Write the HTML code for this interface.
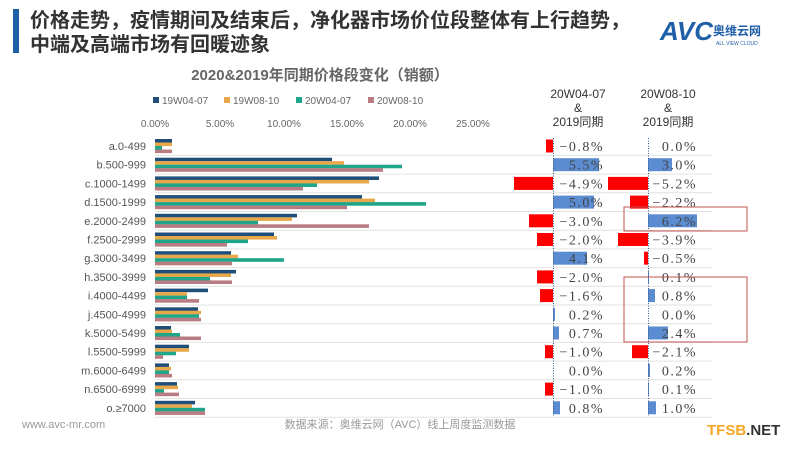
<!DOCTYPE html>
<html><head><meta charset="utf-8"><style>
body{margin:0;width:800px;height:450px;background:#fff;overflow:hidden;font-family:"Liberation Sans","Noto Sans CJK SC",sans-serif}
</style></head><body>
<svg width="800" height="450" xmlns="http://www.w3.org/2000/svg" font-family="Liberation Sans, Noto Sans CJK SC, sans-serif">
<rect x="13" y="9" width="6" height="44" fill="#1f5fa8"/>
<text x="30" y="27" font-size="20" font-weight="bold" fill="#333">价格走势，疫情期间及结束后，净化器市场价位段整体有上行趋势，</text>
<text x="30" y="51" font-size="20" font-weight="bold" fill="#333">中端及高端市场有回暖迹象</text>
<text x="660" y="40" font-size="26" font-weight="bold" fill="#1f5fa8" font-style="italic">AVC</text>
<text x="713" y="35" font-size="12" font-weight="bold" fill="#1f5fa8">奥维云网</text>
<text x="716" y="45" font-size="5" fill="#1f5fa8">ALL VIEW CLOUD</text>
<text x="320" y="80" font-size="15" font-weight="bold" fill="#666" text-anchor="middle">2020&amp;2019年同期价格段变化（销额）</text>
<g font-size="10" fill="#666">
<rect x="153" y="97" width="6" height="6" fill="#1f4e79"/><text x="162" y="104">19W04-07</text>
<rect x="224" y="97" width="6" height="6" fill="#e8a84a"/><text x="233" y="104">19W08-10</text>
<rect x="296" y="97" width="6" height="6" fill="#1fa58a"/><text x="305" y="104">20W04-07</text>
<rect x="368" y="97" width="6" height="6" fill="#b87c82"/><text x="377" y="104">20W08-10</text>
</g>
<g font-size="10" fill="#666" text-anchor="middle">
<text x="155" y="127">0.00%</text><text x="220" y="127">5.00%</text><text x="284" y="127">10.00%</text><text x="347" y="127">15.00%</text><text x="410" y="127">20.00%</text><text x="473" y="127">25.00%</text>
</g>
<g font-size="12" fill="#333" text-anchor="middle">
<text x="578" y="98">20W04-07</text><text x="578" y="112">&amp;</text><text x="578" y="126">2019同期</text>
<text x="668" y="98">20W08-10</text><text x="668" y="112">&amp;</text><text x="668" y="126">2019同期</text>
</g>
<g stroke="#e2e2e2" stroke-width="1">
<line x1="155" x2="712" y1="155.4" y2="155.4"/><line x1="155" x2="712" y1="174.1" y2="174.1"/><line x1="155" x2="712" y1="192.8" y2="192.8"/><line x1="155" x2="712" y1="211.5" y2="211.5"/><line x1="155" x2="712" y1="230.2" y2="230.2"/><line x1="155" x2="712" y1="248.9" y2="248.9"/><line x1="155" x2="712" y1="267.6" y2="267.6"/><line x1="155" x2="712" y1="286.3" y2="286.3"/><line x1="155" x2="712" y1="305" y2="305"/><line x1="155" x2="712" y1="323.7" y2="323.7"/><line x1="155" x2="712" y1="342.4" y2="342.4"/><line x1="155" x2="712" y1="361.1" y2="361.1"/><line x1="155" x2="712" y1="379.8" y2="379.8"/><line x1="155" x2="712" y1="398.5" y2="398.5"/><line x1="155" x2="712" y1="417.2" y2="417.2"/>
</g>
<defs>
<g id="x"></g>
</defs>
<g font-size="11" fill="#555" text-anchor="end">
<text x="146" y="150">a.0-499</text><text x="146" y="168.7">b.500-999</text><text x="146" y="187.4">c.1000-1499</text><text x="146" y="206.1">d.1500-1999</text><text x="146" y="224.8">e.2000-2499</text><text x="146" y="243.5">f.2500-2999</text><text x="146" y="262.2">g.3000-3499</text><text x="146" y="280.9">h.3500-3999</text><text x="146" y="299.6">i.4000-4499</text><text x="146" y="318.3">j.4500-4999</text><text x="146" y="337">k.5000-5499</text><text x="146" y="355.7">l.5500-5999</text><text x="146" y="374.4">m.6000-6499</text><text x="146" y="393.1">n.6500-6999</text><text x="146" y="411.8">o.≥7000</text>
</g>
<g>
<g transform="translate(155,146)"><rect y="-7" width="17" height="3.6" fill="#1f4e79"/><rect y="-3.5" width="17" height="3.6" fill="#e8a84a"/><rect y="0" width="7" height="3.6" fill="#1fa58a"/><rect y="3.5" width="17" height="3.6" fill="#b87c82"/></g>
<g transform="translate(155,164.7)"><rect y="-7" width="177" height="3.6" fill="#1f4e79"/><rect y="-3.5" width="189" height="3.6" fill="#e8a84a"/><rect y="0" width="247" height="3.6" fill="#1fa58a"/><rect y="3.5" width="228" height="3.6" fill="#b87c82"/></g>
<g transform="translate(155,183.4)"><rect y="-7" width="224" height="3.6" fill="#1f4e79"/><rect y="-3.5" width="214" height="3.6" fill="#e8a84a"/><rect y="0" width="162" height="3.6" fill="#1fa58a"/><rect y="3.5" width="148" height="3.6" fill="#b87c82"/></g>
<g transform="translate(155,202.1)"><rect y="-7" width="207" height="3.6" fill="#1f4e79"/><rect y="-3.5" width="220" height="3.6" fill="#e8a84a"/><rect y="0" width="271" height="3.6" fill="#1fa58a"/><rect y="3.5" width="192" height="3.6" fill="#b87c82"/></g>
<g transform="translate(155,220.8)"><rect y="-7" width="142" height="3.6" fill="#1f4e79"/><rect y="-3.5" width="137" height="3.6" fill="#e8a84a"/><rect y="0" width="103" height="3.6" fill="#1fa58a"/><rect y="3.5" width="214" height="3.6" fill="#b87c82"/></g>
<g transform="translate(155,239.5)"><rect y="-7" width="119" height="3.6" fill="#1f4e79"/><rect y="-3.5" width="122" height="3.6" fill="#e8a84a"/><rect y="0" width="93" height="3.6" fill="#1fa58a"/><rect y="3.5" width="72" height="3.6" fill="#b87c82"/></g>
<g transform="translate(155,258.2)"><rect y="-7" width="76" height="3.6" fill="#1f4e79"/><rect y="-3.5" width="83" height="3.6" fill="#e8a84a"/><rect y="0" width="129" height="3.6" fill="#1fa58a"/><rect y="3.5" width="77" height="3.6" fill="#b87c82"/></g>
<g transform="translate(155,276.9)"><rect y="-7" width="81" height="3.6" fill="#1f4e79"/><rect y="-3.5" width="76" height="3.6" fill="#e8a84a"/><rect y="0" width="55" height="3.6" fill="#1fa58a"/><rect y="3.5" width="77" height="3.6" fill="#b87c82"/></g>
<g transform="translate(155,295.6)"><rect y="-7" width="53" height="3.6" fill="#1f4e79"/><rect y="-3.5" width="32" height="3.6" fill="#e8a84a"/><rect y="0" width="32" height="3.6" fill="#1fa58a"/><rect y="3.5" width="44" height="3.6" fill="#b87c82"/></g>
<g transform="translate(155,314.3)"><rect y="-7" width="43" height="3.6" fill="#1f4e79"/><rect y="-3.5" width="46" height="3.6" fill="#e8a84a"/><rect y="0" width="44" height="3.6" fill="#1fa58a"/><rect y="3.5" width="46" height="3.6" fill="#b87c82"/></g>
<g transform="translate(155,333)"><rect y="-7" width="16" height="3.6" fill="#1f4e79"/><rect y="-3.5" width="17" height="3.6" fill="#e8a84a"/><rect y="0" width="25" height="3.6" fill="#1fa58a"/><rect y="3.5" width="46" height="3.6" fill="#b87c82"/></g>
<g transform="translate(155,351.7)"><rect y="-7" width="34" height="3.6" fill="#1f4e79"/><rect y="-3.5" width="34" height="3.6" fill="#e8a84a"/><rect y="0" width="21" height="3.6" fill="#1fa58a"/><rect y="3.5" width="8" height="3.6" fill="#b87c82"/></g>
<g transform="translate(155,370.4)"><rect y="-7" width="14" height="3.6" fill="#1f4e79"/><rect y="-3.5" width="16" height="3.6" fill="#e8a84a"/><rect y="0" width="14" height="3.6" fill="#1fa58a"/><rect y="3.5" width="17" height="3.6" fill="#b87c82"/></g>
<g transform="translate(155,389.1)"><rect y="-7" width="22" height="3.6" fill="#1f4e79"/><rect y="-3.5" width="23" height="3.6" fill="#e8a84a"/><rect y="0" width="9" height="3.6" fill="#1fa58a"/><rect y="3.5" width="24" height="3.6" fill="#b87c82"/></g>
<g transform="translate(155,407.8)"><rect y="-7" width="40" height="3.6" fill="#1f4e79"/><rect y="-3.5" width="37" height="3.6" fill="#e8a84a"/><rect y="0" width="50" height="3.6" fill="#1fa58a"/><rect y="3.5" width="50" height="3.6" fill="#b87c82"/></g>
</g>
<!-- diff col1 axis 553 -->
<g>
<rect x="546" y="139.5" width="7" height="13" fill="#f00"/>
<rect x="553" y="158.2" width="46" height="13" fill="#5b8bd0"/>
<rect x="514" y="176.9" width="39" height="13" fill="#f00"/>
<rect x="553" y="195.6" width="41" height="13" fill="#5b8bd0"/>
<rect x="529" y="214.3" width="24" height="13" fill="#f00"/>
<rect x="537" y="233" width="16" height="13" fill="#f00"/>
<rect x="553" y="251.7" width="34" height="13" fill="#5b8bd0"/>
<rect x="537" y="270.4" width="16" height="13" fill="#f00"/>
<rect x="540" y="289.1" width="13" height="13" fill="#f00"/>
<rect x="553" y="307.8" width="2" height="13" fill="#5b8bd0"/>
<rect x="553" y="326.5" width="6" height="13" fill="#5b8bd0"/>
<rect x="545" y="345.2" width="8" height="13" fill="#f00"/>
<rect x="545" y="382.6" width="8" height="13" fill="#f00"/>
<rect x="553" y="401.3" width="7" height="13" fill="#5b8bd0"/>
<line x1="553.5" x2="553.5" y1="138" y2="416" stroke="#3a5a8a" stroke-dasharray="1,1.5"/>
</g>
<g>
<rect x="648" y="158.2" width="24" height="13" fill="#5b8bd0"/>
<rect x="608" y="176.9" width="40" height="13" fill="#f00"/>
<rect x="630" y="195.6" width="18" height="13" fill="#f00"/>
<rect x="648" y="214.3" width="49" height="13" fill="#5b8bd0"/>
<rect x="618" y="233" width="30" height="13" fill="#f00"/>
<rect x="644" y="251.7" width="4" height="13" fill="#f00"/>
<rect x="648" y="270.4" width="1" height="13" fill="#5b8bd0"/>
<rect x="648" y="289.1" width="7" height="13" fill="#5b8bd0"/>
<rect x="648" y="326.5" width="20" height="13" fill="#5b8bd0"/>
<rect x="632" y="345.2" width="16" height="13" fill="#f00"/>
<rect x="648" y="364" width="2" height="13" fill="#5b8bd0"/>
<rect x="648" y="382.6" width="1" height="13" fill="#5b8bd0"/>
<rect x="648" y="401.3" width="8" height="13" fill="#5b8bd0"/>
<line x1="648.5" x2="648.5" y1="138" y2="416" stroke="#3a5a8a" stroke-dasharray="1,1.5"/>
</g>
<g font-family="Liberation Serif, Noto Serif CJK SC, serif" font-size="14" fill="#444" text-anchor="end" letter-spacing="1.5">
<text x="604" y="151">−0.8%</text><text x="604" y="169.7">5.5%</text><text x="604" y="188.4">−4.9%</text><text x="604" y="207.1">5.0%</text><text x="604" y="225.8">−3.0%</text><text x="604" y="244.5">−2.0%</text><text x="604" y="263.2">4.1%</text><text x="604" y="281.9">−2.0%</text><text x="604" y="300.6">−1.6%</text><text x="604" y="319.3">0.2%</text><text x="604" y="338">0.7%</text><text x="604" y="356.7">−1.0%</text><text x="604" y="375.4">0.0%</text><text x="604" y="394.1">−1.0%</text><text x="604" y="412.8">0.8%</text>
<text x="697" y="151">0.0%</text><text x="697" y="169.7">3.0%</text><text x="697" y="188.4">−5.2%</text><text x="697" y="207.1">−2.2%</text><text x="697" y="225.8">6.2%</text><text x="697" y="244.5">−3.9%</text><text x="697" y="263.2">−0.5%</text><text x="697" y="281.9">0.1%</text><text x="697" y="300.6">0.8%</text><text x="697" y="319.3">0.0%</text><text x="697" y="338">2.4%</text><text x="697" y="356.7">−2.1%</text><text x="697" y="375.4">0.2%</text><text x="697" y="394.1">0.1%</text><text x="697" y="412.8">1.0%</text>
</g>
<rect x="624" y="207" width="123" height="24" fill="none" stroke="#c0504d" stroke-width="1"/>
<rect x="624" y="277" width="123" height="65" fill="none" stroke="#c0504d" stroke-width="1"/>
<text x="22" y="428" font-size="11" fill="#999">www.avc-mr.com</text>
<text x="400" y="428" font-size="11" fill="#999" text-anchor="middle">数据来源：奥维云网（AVC）线上周度监测数据</text>
<text x="707" y="435" font-size="15" font-weight="bold" fill="#f5a623">TFSB<tspan fill="#333">.NET</tspan></text>
</svg>
</body></html>
